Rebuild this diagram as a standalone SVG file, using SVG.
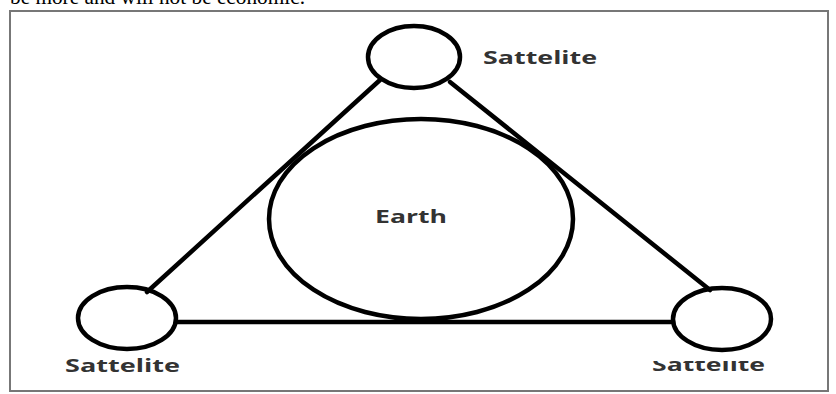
<svg xmlns="http://www.w3.org/2000/svg" width="836" height="394" viewBox="0 0 836 394">
<defs>
<style>
.node{fill:none;stroke:#000;stroke-width:4.5}
.edge{stroke:#000;stroke-width:4.5;fill:none;stroke-linecap:round}
.lbl{font-family:"Open Sans","Liberation Sans",sans-serif;font-weight:bold;font-size:17px;fill:#333}
</style>
<clipPath id="clipBR"><rect x="640" y="361" width="140" height="20"/></clipPath>
</defs>
<rect width="836" height="394" fill="#fff"/>
<text x="10" y="4" font-family="'Liberation Serif',serif" font-size="20" fill="#000" textLength="295" lengthAdjust="spacingAndGlyphs">be more and will not be economic.</text>
<rect x="10" y="11" width="818" height="380" fill="none" stroke="#777" stroke-width="2"/>
<g id="connectors">
<line class="edge" x1="147" y1="292" x2="380" y2="80"/>
<line class="edge" x1="450" y1="82" x2="710" y2="290"/>
<line class="edge" x1="177" y1="322" x2="673" y2="322"/>
</g>
<g id="earth">
<ellipse class="node" cx="421" cy="219" rx="152" ry="100"/>
<text class="lbl" x="411" y="223" text-anchor="middle" textLength="72" lengthAdjust="spacingAndGlyphs">Earth</text>
</g>
<g id="sat-top">
<ellipse class="node" cx="414" cy="57" rx="46" ry="31"/>
<text class="lbl" x="483" y="64" textLength="114" lengthAdjust="spacingAndGlyphs">Sattelite</text>
</g>
<g id="sat-left">
<ellipse class="node" cx="127" cy="318" rx="49" ry="31"/>
<text class="lbl" x="65" y="372" textLength="115" lengthAdjust="spacingAndGlyphs">Sattelite</text>
</g>
<g id="sat-right">
<ellipse class="node" cx="722" cy="319" rx="49" ry="31"/>
<text class="lbl" x="652" y="371" textLength="113" lengthAdjust="spacingAndGlyphs" clip-path="url(#clipBR)">Sattelite</text>
</g>
</svg>
